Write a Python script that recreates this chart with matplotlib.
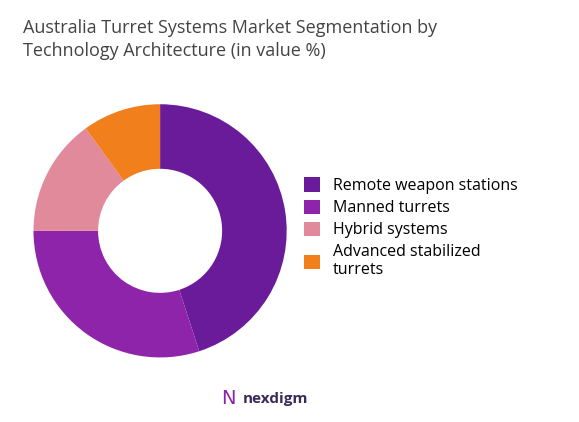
import matplotlib
matplotlib.use("Agg")
import matplotlib.pyplot as plt

labels = ["Remote weapon stations", "Manned turrets", "Hybrid systems", "Advanced stabilized\nturrets"]
values = [45, 30, 15, 10]
colors = ["#6a1b9a", "#8e24aa", "#e08a9c", "#f07f1c"]

fig = plt.figure(figsize=(5.79, 4.22), dpi=100)
ax = fig.add_axes([0.0, 0.078, 0.553, 0.75])
wedges, _ = ax.pie(values, colors=colors, startangle=90, counterclock=False,
                   wedgeprops=dict(width=0.51, edgecolor="none"))
ax.set_aspect("equal")

fig.text(0.04, 0.955, "Australia Turret Systems Market Segmentation by\nTechnology Architecture (in value %)",
         ha="left", va="top", fontsize=13, color="#444444", family="Open Sans", linespacing=1.35)

fig.legend(wedges, labels, loc="center left", bbox_to_anchor=(0.5, 0.46), frameon=False,
           handlelength=1.0, handleheight=1.0, labelspacing=0.35,
           prop={"family": "Open Sans", "size": 11.5})

fig.text(0.475, 0.055, "nexdigm", ha="center", va="center", fontsize=11, color="#3a2a5a",
         family="Open Sans", weight="bold")
fig.text(0.395, 0.055, "\u039d", ha="center", va="center", fontsize=14, color="#8e24aa")

fig.savefig("out.png", dpi=100)
